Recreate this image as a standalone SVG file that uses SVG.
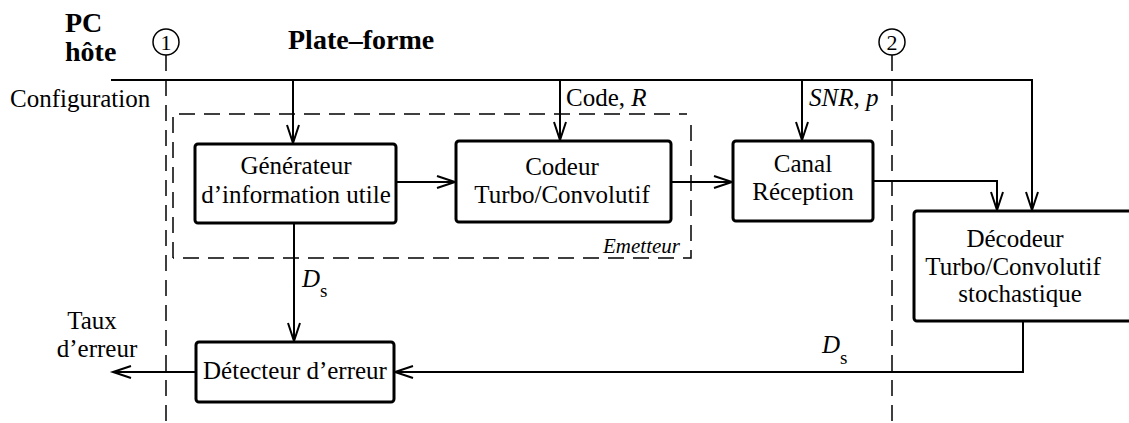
<svg xmlns="http://www.w3.org/2000/svg" width="1129" height="423" viewBox="0 0 1129 423">
<style>
text{font-family:'Liberation Serif','DejaVu Serif',serif;fill:#000}
.t{font-size:25px}
.c{text-anchor:middle}
.b{font-weight:bold;font-size:28px}
.i{font-style:italic}
.box{fill:#fff;stroke:#000;stroke-width:3}
.ln{fill:none;stroke:#000;stroke-width:2}
.dash{fill:none;stroke:#000;stroke-width:1.5;stroke-dasharray:16,9}
.circ{fill:#fff;stroke:#000;stroke-width:1.5}
</style>
<defs>
<marker id="arr" markerUnits="userSpaceOnUse" markerWidth="24" markerHeight="16" refX="19" refY="7" orient="auto" viewBox="0 0 24 16">
<polyline points="1,1 19,7 1,13" fill="none" stroke="#000" stroke-width="2"/>
</marker>
</defs>
<rect width="1129" height="423" fill="#fff"/>

<g id="titles">
<text class="b" x="65" y="32">PC</text>
<text class="b" x="65" y="61">hôte</text>
<text class="b" x="288" y="49">Plate–forme</text>
<text class="t" x="10" y="107">Configuration</text>
</g>

<g id="boundaries">
<line class="dash" x1="166" y1="55" x2="166" y2="423"/>
<circle class="circ" cx="166" cy="42" r="13"/>
<text x="166" y="50" class="c" style="font-size:22px">1</text>
<line class="dash" x1="892" y1="55" x2="892" y2="423"/>
<circle class="circ" cx="892" cy="42" r="13"/>
<text x="892" y="50" class="c" style="font-size:22px">2</text>
</g>

<g id="emetteur">
<path class="dash" d="M173,258 V114 H687 M691,125 V258 H173"/>
<text class="i" x="603" y="253" style="font-size:21px">Emetteur</text>
</g>

<g id="connectors">
<polyline class="ln" points="111,80 1032,80 1032,210" marker-end="url(#arr)"/>
<line class="ln" x1="293" y1="80" x2="293" y2="143" marker-end="url(#arr)"/>
<line class="ln" x1="560" y1="80" x2="560" y2="140" marker-end="url(#arr)"/>
<line class="ln" x1="802" y1="80" x2="802" y2="140" marker-end="url(#arr)"/>
<line class="ln" x1="396" y1="182" x2="455" y2="182" marker-end="url(#arr)"/>
<line class="ln" x1="671" y1="182" x2="732" y2="182" marker-end="url(#arr)"/>
<polyline class="ln" points="873,181 997,181 997,210" marker-end="url(#arr)"/>
<line class="ln" x1="294" y1="223" x2="294" y2="341" marker-end="url(#arr)"/>
<polyline class="ln" points="1023,321 1023,372 395,372" marker-end="url(#arr)"/>
<line class="ln" x1="196" y1="372" x2="113" y2="372" marker-end="url(#arr)"/>
<text class="t" x="566" y="106">Code, <tspan class="i">R</tspan></text>
<text class="t" x="809" y="106"><tspan class="i">SNR</tspan>, <tspan class="i">p</tspan></text>
<text class="t" x="302" y="287"><tspan class="i">D</tspan><tspan dy="10" style="font-size:19px">s</tspan></text>
<text class="t" x="822" y="353"><tspan class="i">D</tspan><tspan dy="11" style="font-size:19px">s</tspan></text>
<text class="t c" x="92" y="329">Taux</text>
<text class="t c" x="97" y="357">d’erreur</text>
</g>

<g id="generateur">
<rect class="box" x="195" y="144" width="201" height="79" rx="3"/>
<text class="t c" x="296" y="174">Générateur</text>
<text class="t c" x="296" y="203">d’information utile</text>
</g>

<g id="codeur">
<rect class="box" x="456" y="141" width="215" height="81" rx="3"/>
<text class="t c" x="562" y="175">Codeur</text>
<text class="t c" x="562" y="203">Turbo/Convolutif</text>
</g>

<g id="canal">
<rect class="box" x="733" y="141" width="140" height="80" rx="3"/>
<text class="t c" x="803" y="172">Canal</text>
<text class="t c" x="803" y="200">Réception</text>
</g>

<g id="decodeur">
<rect class="box" x="914" y="211" width="220" height="110" rx="3"/>
<text class="t c" x="1015" y="247">Décodeur</text>
<text class="t c" x="1013" y="275">Turbo/Convolutif</text>
<text class="t c" x="1020" y="302">stochastique</text>
</g>

<g id="detecteur">
<rect class="box" x="196" y="342" width="198" height="60" rx="3"/>
<text class="t c" x="295" y="379">Détecteur d’erreur</text>
</g>
</svg>
